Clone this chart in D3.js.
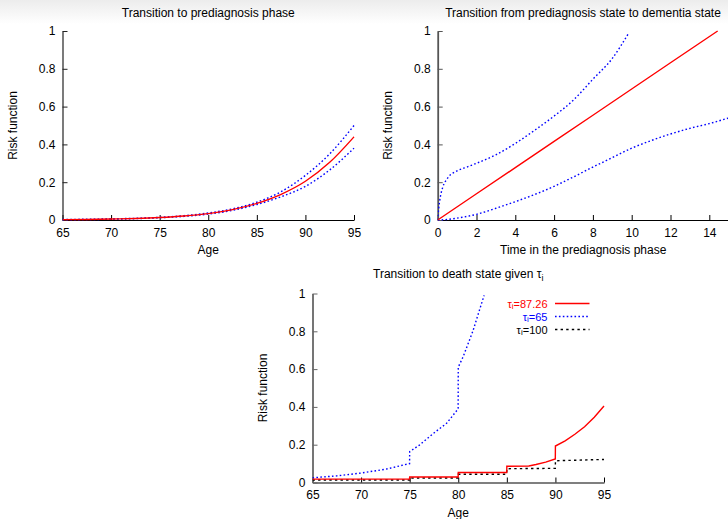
<!DOCTYPE html>
<html>
<head>
<meta charset="utf-8">
<script src="https://cdn.jsdelivr.net/npm/d3@7/dist/d3.min.js"></script>
<style>
  html, body { margin: 0; padding: 0; background: #fff; }
  svg { display: block; font-family: "Liberation Sans", Arial, Helvetica, sans-serif; }
</style>
</head>
<body>
<svg id="chart" width="728" height="519"></svg>
<script>
// ---------------- DATA ----------------
// Panel 1: Transition to prediagnosis phase
const p1Ages  = [65, 67.5, 70, 72.5, 75, 77.5, 80, 82.5, 85, 87.5, 90, 92.5, 95];
const p1Est   = [0.002, 0.003, 0.005, 0.008, 0.013, 0.021, 0.034, 0.055, 0.088, 0.136, 0.205, 0.305, 0.44];
const p1Upper = [0.003, 0.004, 0.006, 0.009, 0.014, 0.023, 0.037, 0.059, 0.094, 0.150, 0.236, 0.350, 0.50];
const p1Lower = [0.001, 0.002, 0.004, 0.007, 0.012, 0.019, 0.031, 0.051, 0.082, 0.123, 0.178, 0.265, 0.38];

// Panel 2: Transition from prediagnosis state to dementia state
const p2EstT   = [0, 2, 4, 6, 8, 10, 12, 14.43];
const p2Est    = [0, 0.139, 0.277, 0.416, 0.554, 0.693, 0.832, 1.0];
const p2UpperT = [0, 0.05, 0.1, 0.25, 0.5, 1, 1.5, 2, 3, 4, 5, 6, 7, 8, 9, 9.85];
const p2Upper  = [0, 0.06, 0.10, 0.17, 0.22, 0.26, 0.28, 0.30, 0.345, 0.405, 0.475, 0.55, 0.635, 0.745, 0.855, 0.99];
const p2LowerT = [0, 0.5, 1, 2, 3, 4, 5, 6, 7, 8, 9, 10, 11, 12, 13, 14, 15];
const p2Lower  = [0, 0.003, 0.01, 0.03, 0.062, 0.097, 0.135, 0.178, 0.228, 0.28, 0.33, 0.38, 0.42, 0.455, 0.485, 0.51, 0.54];

// Panel 3: Transition to death state given tau_i
const p3RedAges   = [65, 74.99, 75, 79.99, 80, 84.99, 85, 87.26, 88, 89, 89.99, 90, 91, 92, 93, 94, 95];
const p3Red       = [0.018, 0.018, 0.029, 0.029, 0.053, 0.053, 0.086, 0.087, 0.095, 0.108, 0.125, 0.193, 0.22, 0.255, 0.295, 0.345, 0.405];
const p3BlueAges  = [65, 67.5, 70, 72.5, 74.99, 75, 76, 77.5, 78.8, 79.99, 80, 80.5, 81.5, 82.66];
const p3Blue      = [0.025, 0.035, 0.05, 0.07, 0.10, 0.163, 0.198, 0.262, 0.313, 0.39, 0.61, 0.665, 0.80, 0.99];
const p3BlackAges = [65, 74.99, 75, 79.99, 80, 84.99, 85, 89.99, 90, 95];
const p3Black     = [0.013, 0.013, 0.024, 0.024, 0.044, 0.044, 0.073, 0.075, 0.115, 0.122];

const legendLabels = ["87.26", "65", "100"];
const yTicks = [0, 0.2, 0.4, 0.6, 0.8, 1];
const yTickLabels = ["0", "0.2", "0.4", "0.6", "0.8", "1"];
const ageTicks = [65, 70, 75, 80, 85, 90, 95];
const timeTicks = [0, 2, 4, 6, 8, 10, 12, 14];

// ---------------- DRAW ----------------
const svg = d3.select("#chart");

// faint top gradient band
const defs = svg.append("defs");
const grad = defs.append("linearGradient").attr("id", "topg").attr("x1", 0).attr("y1", 0).attr("x2", 0).attr("y2", 1);
grad.append("stop").attr("offset", "0%").attr("stop-color", "#ececec");
grad.append("stop").attr("offset", "100%").attr("stop-color", "#ffffff");
svg.append("rect").attr("x", 0).attr("y", 0).attr("width", 728).attr("height", 24).attr("fill", "url(#topg)");

const RED = "#ff0000", BLUE = "#0000ff", BLACK = "#000000";

function panel(cfg) {
  const g = svg.append("g");
  const x = d3.scaleLinear().domain(cfg.xDomain).range(cfg.xRange);
  const y = d3.scaleLinear().domain([0, 1]).range(cfg.yRange);

  const xAxis = d3.axisBottom(x).tickValues(cfg.xTicks).tickSizeInner(-5).tickSizeOuter(0).tickPadding(8)
    .tickFormat(d3.format("d"));
  const gx = g.append("g").attr("transform", `translate(0,${cfg.yRange[0]})`).call(xAxis);
  gx.select(".domain").attr("stroke", "#000").attr("stroke-width", 1.2);
  gx.selectAll(".tick line").attr("stroke", "#000");
  gx.selectAll("text").attr("font-size", 12).attr("fill", "#000");
  gx.attr("font-family", null).attr("font-size", 12);

  const yAxis = d3.axisLeft(y).tickValues(yTicks).tickSizeInner(-5).tickSizeOuter(0).tickPadding(7)
    .tickFormat((d, i) => yTickLabels[i]);
  const gy = g.append("g").attr("transform", `translate(${cfg.xRange[0]},0)`).call(yAxis);
  gy.select(".domain").attr("stroke", cfg.yAxisColor).attr("stroke-width", cfg.yAxisWidth);
  gy.selectAll(".tick line").attr("stroke", cfg.yAxisColor);
  gy.selectAll("text").attr("font-size", 12).attr("fill", "#000");
  gy.attr("font-family", null).attr("font-size", 12);

  // title
  const xm = (cfg.xRange[0] + cfg.xRange[1]) / 2;
  const t = g.append("text").attr("x", cfg.titleX || xm).attr("y", cfg.titleY)
    .attr("text-anchor", "middle").attr("font-size", 12).attr("fill", "#000");
  cfg.title(t);

  // x label
  g.append("text").attr("x", xm).attr("y", cfg.yRange[0] + 34)
    .attr("text-anchor", "middle").attr("font-size", 12).attr("fill", "#000").text(cfg.xLabel);
  // y label
  const ym = (cfg.yRange[0] + cfg.yRange[1]) / 2;
  g.append("text").attr("transform", `translate(${cfg.yLabelX},${ym}) rotate(-90)`)
    .attr("text-anchor", "middle").attr("font-size", 12).attr("fill", "#000").text("Risk function");

  const clipId = "clip" + Math.round(cfg.xRange[0]);
  defs.append("clipPath").attr("id", clipId).append("rect")
    .attr("x", cfg.xRange[0]).attr("y", cfg.yRange[1] - 2)
    .attr("width", cfg.xRange[1] - cfg.xRange[0] + 2).attr("height", cfg.yRange[0] - cfg.yRange[1] + 4);
  const lg = g.append("g").attr("clip-path", `url(#${clipId})`);

  cfg.series.forEach(s => {
    const pts = s.xs.map((v, i) => [v, s.ys[i]]);
    const line = d3.line().x(d => x(d[0])).y(d => y(d[1])).curve(s.curve || d3.curveLinear);
    lg.append("path").attr("d", line(pts)).attr("fill", "none")
      .attr("stroke", s.color).attr("stroke-width", s.width || 1.4)
      .attr("stroke-dasharray", s.dash || null);
  });
  return { x, y, g };
}

const DOT_BLUE = "1.6,2.3";
const DOT_BLACK = "2.4,3.2";

panel({
  xDomain: [65, 95], xRange: [62.5, 354], yRange: [220, 31],
  xTicks: ageTicks, xLabel: "Age", yLabelX: 17, titleY: 17,
  yAxisColor: "#222", yAxisWidth: 1.2,
  title: t => t.text("Transition to prediagnosis phase"),
  series: [
    { xs: p1Ages, ys: p1Upper, color: BLUE, dash: DOT_BLUE, curve: d3.curveMonotoneX },
    { xs: p1Ages, ys: p1Lower, color: BLUE, dash: DOT_BLUE, curve: d3.curveMonotoneX },
    { xs: p1Ages, ys: p1Est, color: RED, curve: d3.curveMonotoneX }
  ]
});

panel({
  xDomain: [0, 15], xRange: [437.7, 728.7], yRange: [220, 31],
  xTicks: timeTicks, xLabel: "Time in the prediagnosis phase", yLabelX: 392, titleY: 17,
  titleX: 583,
  yAxisColor: "#555", yAxisWidth: 1.8,
  title: t => t.text("Transition from prediagnosis state to dementia state"),
  series: [
    { xs: p2UpperT, ys: p2Upper, color: BLUE, dash: DOT_BLUE, curve: d3.curveMonotoneX },
    { xs: p2LowerT, ys: p2Lower, color: BLUE, dash: DOT_BLUE, curve: d3.curveMonotoneX },
    { xs: p2EstT, ys: p2Est, color: RED }
  ]
});

const p3 = panel({
  xDomain: [65, 95], xRange: [312.5, 604], yRange: [482.5, 293.5],
  xTicks: ageTicks, xLabel: "Age", yLabelX: 267, titleY: 278,
  yAxisColor: "#666", yAxisWidth: 1.8,
  title: t => {
    t.append("tspan").text("Transition to death state given τ");
    t.append("tspan").attr("font-size", 9).attr("dy", 3).text("i");
  },
  series: [
    { xs: p3BlackAges, ys: p3Black, color: BLACK, dash: DOT_BLACK },
    { xs: p3BlueAges, ys: p3Blue, color: BLUE, dash: DOT_BLUE },
    { xs: p3RedAges, ys: p3Red, color: RED }
  ]
});

// legend
const legendColors = [RED, BLUE, BLACK];
const legendDash = [null, DOT_BLUE, DOT_BLACK];
legendLabels.forEach((lab, i) => {
  const yy = 303.5 + i * 13;
  const t = p3.g.append("text").attr("x", 547.5).attr("y", yy + 4).attr("text-anchor", "end")
    .attr("font-size", 11).attr("fill", legendColors[i]);
  t.append("tspan").text("τ");
  t.append("tspan").attr("font-size", 8).attr("dy", 1).text("i");
  t.append("tspan").attr("dy", -1).text("=" + lab);
  p3.g.append("line").attr("x1", 555).attr("x2", 589.5).attr("y1", yy).attr("y2", yy)
    .attr("stroke", legendColors[i]).attr("stroke-width", 1.4)
    .attr("stroke-dasharray", legendDash[i]);
});
</script>
</body>
</html>
